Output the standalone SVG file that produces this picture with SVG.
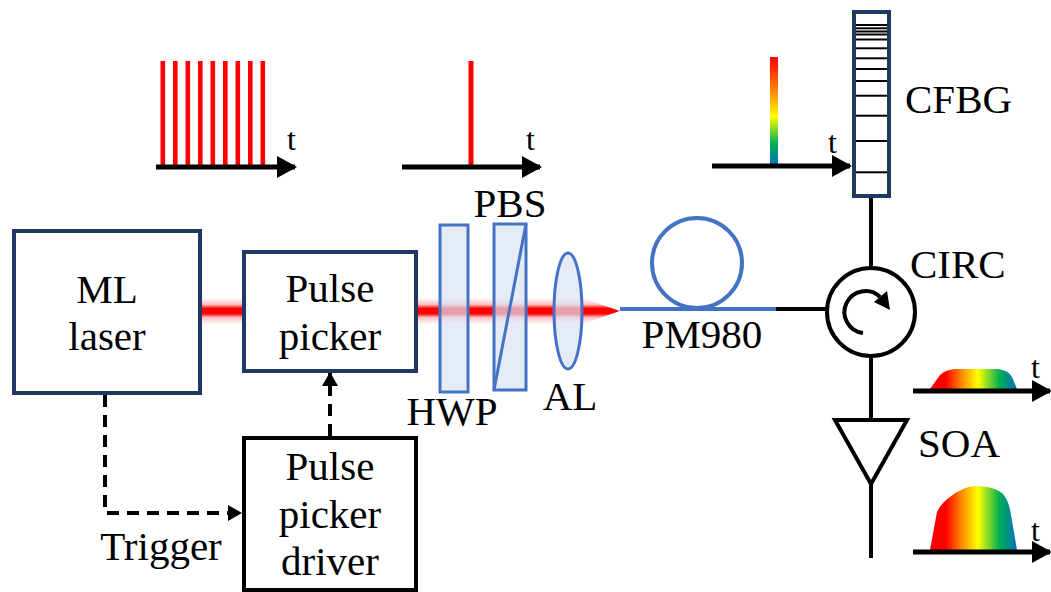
<svg xmlns="http://www.w3.org/2000/svg" width="1051" height="592" viewBox="0 0 1051 592">
  <defs>
    <style>
      text { font-family: "Liberation Serif", "Times New Roman", serif; fill: #000; }
      .lbl { font-size: 41px; }
      .tl { font-size: 32px; }
      .navy { fill: #fff; stroke: #1f3864; stroke-width: 4; }
      .blk { fill: #fff; stroke: #000; stroke-width: 4; }
      .optic { fill: #dae3f3; fill-opacity: 0.7; stroke: #4472c4; stroke-width: 3; }
      .axis { stroke: #000; stroke-width: 5; fill: none; }
      .wire { stroke: #000; stroke-width: 4; fill: none; }
      .fiber { stroke: #4472c4; stroke-width: 4; fill: none; }
      .dash { stroke: #000; stroke-width: 4; fill: none; stroke-dasharray: 12 8; }
      .pulse { fill: #ff0000; }
    </style>
    <!-- soft vertical profile of the free-space laser beam -->
    <linearGradient id="beamGrad" x1="0" y1="0" x2="0" y2="1">
      <stop offset="0" stop-color="#ff0000" stop-opacity="0"/>
      <stop offset="0.25" stop-color="#ff0000" stop-opacity="0.25"/>
      <stop offset="0.4" stop-color="#ff0000" stop-opacity="1"/>
      <stop offset="0.6" stop-color="#ff0000" stop-opacity="1"/>
      <stop offset="0.75" stop-color="#ff0000" stop-opacity="0.25"/>
      <stop offset="1" stop-color="#ff0000" stop-opacity="0"/>
    </linearGradient>
    <!-- spectral chirp: red (leading) to blue (trailing) -->
    <linearGradient id="chirpV" x1="0" y1="0" x2="0" y2="1">
      <stop offset="0" stop-color="#ff0000"/>
      <stop offset="0.3" stop-color="#ff8000"/>
      <stop offset="0.55" stop-color="#ffff00"/>
      <stop offset="0.8" stop-color="#00b050"/>
      <stop offset="1" stop-color="#0070c0"/>
    </linearGradient>
    <linearGradient id="chirpH" x1="0" y1="0" x2="1" y2="0">
      <stop offset="0" stop-color="#ff0000"/>
      <stop offset="0.18" stop-color="#ff0000"/>
      <stop offset="0.35" stop-color="#ff8000"/>
      <stop offset="0.55" stop-color="#ffff00"/>
      <stop offset="0.8" stop-color="#00b050"/>
      <stop offset="1" stop-color="#0070c0"/>
    </linearGradient>
    <!-- large head for time axes -->
    <marker id="arrowSolid" viewBox="0 0 20 22" refX="18" refY="11" markerWidth="20" markerHeight="22" markerUnits="userSpaceOnUse" orient="auto">
      <path d="M0,0 L20,11 L0,22 z" fill="#000"/>
    </marker>
    <!-- smaller head for control lines -->
    <marker id="arrowDash" viewBox="0 0 14 16" refX="13" refY="8" markerWidth="14" markerHeight="16" markerUnits="userSpaceOnUse" orient="auto">
      <path d="M0,0 L14,8 L0,16 z" fill="#000"/>
    </marker>
  </defs>

  <!-- free-space beam -->
  <g id="beam">
    <path d="M200,298 L582,298 L620,311 L582,324 L200,324 z" fill="url(#beamGrad)"/>
  </g>

  <!-- pulse train from the oscillator -->
  <g id="pulse-train">
    <rect class="pulse" x="160.5" y="61" width="4.6" height="106"/>
    <rect class="pulse" x="173" y="61" width="4.6" height="106"/>
    <rect class="pulse" x="185.5" y="61" width="4.6" height="106"/>
    <rect class="pulse" x="198" y="61" width="4.6" height="106"/>
    <rect class="pulse" x="210.5" y="61" width="4.6" height="106"/>
    <rect class="pulse" x="223" y="61" width="4.6" height="106"/>
    <rect class="pulse" x="235.5" y="61" width="4.6" height="106"/>
    <rect class="pulse" x="248" y="61" width="4.6" height="106"/>
    <rect class="pulse" x="260.5" y="61" width="4.6" height="106"/>
    <line class="axis" x1="156" y1="167" x2="295" y2="167" marker-end="url(#arrowSolid)"/>
    <text class="tl" x="287" y="150">t</text>
  </g>

  <!-- single picked pulse -->
  <g id="pulse-single">
    <rect class="pulse" x="468.5" y="61" width="5" height="106"/>
    <line class="axis" x1="402" y1="167" x2="540" y2="167" marker-end="url(#arrowSolid)"/>
    <text class="tl" x="526" y="150">t</text>
  </g>

  <!-- chirped pulse -->
  <g id="pulse-chirped">
    <rect x="770" y="57" width="8" height="108" fill="url(#chirpV)"/>
    <line class="axis" x1="712" y1="166" x2="850" y2="166" marker-end="url(#arrowSolid)"/>
    <text class="tl" x="828" y="153">t</text>
  </g>

  <!-- connectors -->
  <g id="connectors">
    <path class="fiber" d="M620,309 L777,309"/>
    <circle class="fiber" cx="697" cy="263" r="45"/>
    <line class="wire" x1="776" y1="309" x2="827" y2="309"/>
    <line class="wire" x1="871" y1="196" x2="871" y2="268"/>
    <line class="wire" x1="871" y1="356" x2="871" y2="420"/>
    <line class="wire" x1="871" y1="484" x2="871" y2="558"/>
    <path class="dash" d="M105,395 L105,513 L241,513" marker-end="url(#arrowDash)"/>
    <path class="dash" d="M330,436 L330,373" marker-end="url(#arrowDash)"/>
  </g>

  <!-- ML laser -->
  <g id="ml-laser">
    <rect class="navy" x="14" y="231" width="186" height="162"/>
    <text class="lbl" x="107" y="303" text-anchor="middle">ML</text>
    <text class="lbl" x="107" y="350" text-anchor="middle">laser</text>
  </g>

  <!-- pulse picker -->
  <g id="pulse-picker">
    <rect class="navy" x="244" y="252" width="172" height="119"/>
    <text class="lbl" x="330" y="302" text-anchor="middle">Pulse</text>
    <text class="lbl" x="330" y="350" text-anchor="middle">picker</text>
  </g>

  <!-- pulse picker driver -->
  <g id="pulse-picker-driver">
    <rect class="blk" x="244" y="438" width="172" height="152"/>
    <text class="lbl" x="330" y="480" text-anchor="middle">Pulse</text>
    <text class="lbl" x="330" y="528" text-anchor="middle">picker</text>
    <text class="lbl" x="330" y="575" text-anchor="middle">driver</text>
  </g>

  <g id="trigger-label">
    <text class="lbl" x="161" y="560" text-anchor="middle">Trigger</text>
  </g>

  <!-- half-wave plate -->
  <g id="hwp">
    <rect class="optic" x="440" y="225" width="28" height="167"/>
    <text class="lbl" x="452" y="425" text-anchor="middle">HWP</text>
  </g>

  <!-- polarising beam splitter -->
  <g id="pbs">
    <rect class="optic" x="494" y="224" width="32" height="166"/>
    <line x1="526" y1="224" x2="494" y2="390" stroke="#4472c4" stroke-width="3"/>
    <text class="lbl" x="510" y="217" text-anchor="middle">PBS</text>
  </g>

  <!-- aspheric lens -->
  <g id="al">
    <ellipse class="optic" cx="568" cy="311" rx="14" ry="58"/>
    <text class="lbl" x="570" y="410" text-anchor="middle">AL</text>
  </g>

  <g id="pm980-label">
    <text class="lbl" x="702" y="348" text-anchor="middle">PM980</text>
  </g>

  <!-- chirped fibre Bragg grating -->
  <g id="cfbg">
    <rect x="854" y="12" width="35" height="184" fill="#fff" stroke="#1f3864" stroke-width="4"/>
    <g stroke="#000" stroke-width="2">
      <line x1="856" y1="25" x2="887" y2="25"/>
      <line x1="856" y1="28.3" x2="887" y2="28.3"/>
      <line x1="856" y1="31.5" x2="887" y2="31.5"/>
      <line x1="856" y1="34.5" x2="887" y2="34.5"/>
      <line x1="856" y1="39.5" x2="887" y2="39.5"/>
      <line x1="856" y1="48.3" x2="887" y2="48.3"/>
      <line x1="856" y1="58.3" x2="887" y2="58.3"/>
      <line x1="856" y1="69" x2="887" y2="69"/>
      <line x1="856" y1="81" x2="887" y2="81"/>
      <line x1="856" y1="95.7" x2="887" y2="95.7"/>
      <line x1="856" y1="115.7" x2="887" y2="115.7"/>
      <line x1="856" y1="141" x2="887" y2="141"/>
      <line x1="856" y1="172.3" x2="887" y2="172.3"/>
    </g>
    <text class="lbl" x="905" y="113">CFBG</text>
  </g>

  <!-- circulator -->
  <g id="circ">
    <circle cx="871" cy="312" r="44" fill="#fff" stroke="#000" stroke-width="4"/>
    <path d="M863,333 A21,21 0 1 1 880,297" fill="none" stroke="#000" stroke-width="4"/>
    <polygon points="890,310 874,302 887,291" fill="#000"/>
    <text class="lbl" x="910" y="278">CIRC</text>
  </g>

  <!-- semiconductor optical amplifier -->
  <g id="soa">
    <polygon points="835,420 907,420 871,484" fill="#fff" stroke="#000" stroke-width="4"/>
    <text class="lbl" x="918" y="457">SOA</text>
  </g>

  <!-- stretched pulse after CIRC -->
  <g id="pulse-stretched">
    <path d="M930,389 L940,375 Q945,370 955,369 L998,369 Q1008,370 1012,377 L1017,389 z" fill="url(#chirpH)"/>
    <line class="axis" x1="913" y1="391" x2="1050" y2="391" marker-end="url(#arrowSolid)"/>
    <text class="tl" x="1031" y="378">t</text>
  </g>

  <!-- amplified pulse after SOA -->
  <g id="pulse-amplified">
    <path d="M930,550 L937,512 Q942,502 950,497 Q962,487 975,486 Q993,486 1002,493 Q1009,500 1011,515 L1017,550 z" fill="url(#chirpH)"/>
    <line class="axis" x1="913" y1="552" x2="1050" y2="552" marker-end="url(#arrowSolid)"/>
    <text class="tl" x="1031" y="541">t</text>
  </g>
</svg>
